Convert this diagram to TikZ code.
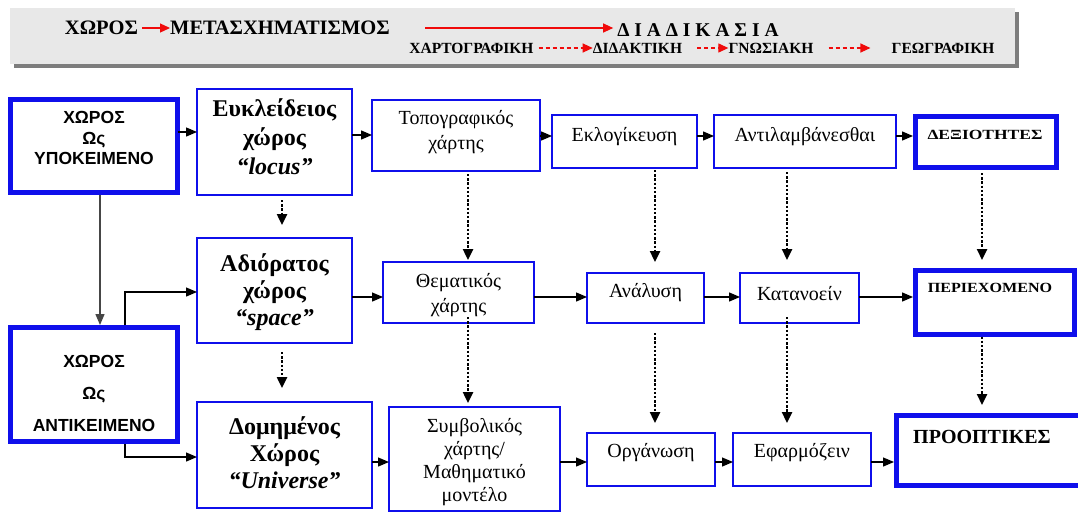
\documentclass[tikz,border=0pt]{standalone}
\usepackage{fontspec}
\setmainfont{Liberation Serif}
\setsansfont{Liberation Sans}
\usetikzlibrary{arrows.meta}
\definecolor{bxblue}{RGB}{15,15,235}
\definecolor{hdrgray}{RGB}{232,232,232}
\definecolor{shgray}{RGB}{125,125,125}
\definecolor{arrred}{RGB}{240,10,10}
\definecolor{lnkgray}{RGB}{70,70,70}
\newcommand\mybox[6]{\node[#2, minimum width={#5-#3}, minimum height={#6-#4}] (#1) at ({(#3+#5)/2},{(#4+#6)/2}) {};}
\newcommand\fsz[2]{\fontsize{#1}{#2}\selectfont}
\begin{document}
\begin{tikzpicture}[x=1pt,y=-1pt,
  thinbox/.style={draw=bxblue, line width=1.4pt, fill=white, inner sep=0pt, outer sep=0pt},
  thickbox/.style={draw=bxblue, line width=5pt, fill=white, inner sep=0pt, outer sep=0pt},
  txt/.style={inner sep=0pt, align=center},
  arr/.style={-{Triangle[length=11pt,width=9pt]}, line width=1.3pt, black},
  dotarr/.style={-{Triangle[length=11pt,width=10pt]}, line width=2.4pt, dash pattern=on 2.4pt off 1.8pt, black},
  redarr/.style={-{Triangle[length=10pt,width=9pt]}, line width=1.2pt, arrred},
  reddash/.style={-{Triangle[length=10pt,width=9pt]}, line width=1.2pt, arrred, dash pattern=on 4pt off 3pt},
  hdr1/.style={inner sep=0pt, font=\bfseries\fsz{20.5}{22}},
  hdr2/.style={inner sep=0pt, font=\bfseries\fsz{15.5}{17}}
]
\useasboundingbox (0,0) rectangle (1078,512);
\fill[white] (0,0) rectangle (1078,512);
% header panel
\fill[shgray] (14,12) rectangle (1019,68);
\node[fill=hdrgray, inner sep=0pt, outer sep=0pt, minimum width=1005, minimum height=56] (hdr) at (512.5,36) {};
\node[hdr1] (hx) at (101.5,28) {ΧΩΡΟΣ};
\node[hdr1] (hm) at (280,28) {ΜΕΤΑΣΧΗΜΑΤΙΣΜΟΣ};
\node[hdr1, font=\bfseries\fsz{19.5}{22}] (hd) at (698,30) {Δ Ι Α Δ Ι Κ Α Σ Ι Α};
\coordinate (hstart) at (425,28);
\node[hdr2] (c1) at (471.5,48) {ΧΑΡΤΟΓΡΑΦΙΚΗ};
\node[hdr2] (c2) at (637.5,48) {ΔΙΔΑΚΤΙΚΗ};
\node[hdr2] (c3) at (771,48) {ΓΝΩΣΙΑΚΗ};
\node[hdr2] (c4) at (943,48) {ΓΕΩΓΡΑΦΙΚΗ};
\draw[redarr] ([xshift=4pt]hx.east) -- (hm.west);
\draw[redarr] (hstart) -- ([xshift=-4pt]hd.west |- hstart);
\draw[reddash] ([xshift=5pt]c1.east) -- (c2.west);
\draw[reddash] ([xshift=15pt]c2.east) -- (c3.west);
\draw[reddash, shorten >=21pt] ([xshift=15pt]c3.east) -- (c4.west);

% boxes
\mybox{a}{thickbox}{10.5}{99.5}{177.5}{192.5}
\mybox{b}{thinbox}{197}{89}{352}{195}
\mybox{c}{thinbox}{372}{100}{540}{171}
\mybox{d}{thinbox}{552}{115}{697}{168}
\mybox{e}{thinbox}{714}{115}{896}{168}
\mybox{f}{thickbox}{915.5}{116.5}{1056.5}{167.5}
\mybox{g}{thinbox}{197}{238}{352}{343}
\mybox{h}{thinbox}{383}{262}{534}{323}
\mybox{i}{thinbox}{587}{273}{704}{323}
\mybox{j}{thinbox}{740}{273}{859}{323}
\mybox{k}{thickbox}{915.5}{270.5}{1074.5}{334.5}
\mybox{l}{thickbox}{10.5}{327.5}{177.5}{441.5}
\mybox{m}{thinbox}{197}{402}{372}{508}
\mybox{n}{thinbox}{389}{407}{560}{511}
\mybox{o}{thinbox}{587}{433}{715}{486}
\mybox{p}{thinbox}{733}{433}{871}{486}
\mybox{q}{thickbox}{896.5}{415.5}{1082}{485.5}

% texts
\node[txt, font=\sffamily\bfseries\fsz{17.5}{20.5}] (at) at (94,138) {ΧΩΡΟΣ\\Ως\\ΥΠΟΚΕΙΜΕΝΟ};
\node[txt, font=\sffamily\bfseries\fsz{17.5}{32}] (lt) at (94,393) {ΧΩΡΟΣ\\Ως\\ΑΝΤΙΚΕΙΜΕΝΟ};
\node[txt, font=\bfseries\fsz{24}{29}] (bt) at (274.5,137) {Ευκλείδειος\\χώρος\\\textit{“locus”}};
\node[txt, font=\bfseries\fsz{24}{27}] (gt) at (274.5,292) {Αδιόρατος\\χώρος\\\textit{“space”}};
\node[txt, font=\bfseries\fsz{24}{27}] (mt) at (284.5,453) {Δομημένος\\Χώρος\\\textit{“Universe”}};
\node[txt, font=\fsz{20}{25}] (ct) at (456,132.5) {Τοπογραφικός\\χάρτης};
\node[txt, font=\fsz{20}{25}] (ht) at (458.5,295.5) {Θεματικός\\χάρτης};
\node[txt, font=\fsz{20}{23}] (nt) at (474.5,462) {Συμβολικός\\χάρτης/\\Μαθηματικό\\μοντέλο};
\node[txt, font=\fsz{20}{22}] (dt) at (624.5,137) {Εκλογίκευση};
\node[txt, font=\fsz{20}{22}] (et) at (805,137) {Αντιλαμβάνεσθαι};
\node[txt, font=\fsz{20}{22}] (it) at (645.5,293) {Ανάλυση};
\node[txt, font=\fsz{20}{22}] (jt) at (799.5,294) {Κατανοείν};
\node[txt, font=\fsz{20}{22}] (ot) at (651,453) {Οργάνωση};
\node[txt, font=\fsz{20}{22}] (pt) at (802,453) {Εφαρμόζειν};
\node[txt, font=\bfseries\fsz{14}{16}] (ft) at (985,135) {\scalebox{1.25}[1]{ΔΕΞΙΟΤΗΤΕΣ}};
\node[txt, font=\bfseries\fsz{14}{16}] (kt) at (990,288) {\scalebox{1.15}[1]{ΠΕΡΙΕΧΟΜΕΝΟ}};
\node[txt, font=\bfseries\fsz{20}{22}] (qt) at (982,437) {ΠΡΟΟΠΤΙΚΕΣ};

% horizontal arrows
\draw[arr] (a.east |- 0,132) -- (b.west |- 0,132);
\draw[arr] (b.east |- 0,135) -- (c.west |- 0,135);
\draw[arr] (c.east |- 0,136) -- (d.west |- 0,136);
\draw[arr] (d.east |- 0,136) -- (e.west |- 0,136);
\draw[arr, shorten >=2.5pt] (e.east |- 0,136) -- (f.west |- 0,136);
\draw[arr] (g.east |- 0,297) -- (h.west |- 0,297);
\draw[arr] (h.east |- 0,297) -- (i.west |- 0,297);
\draw[arr] (i.east |- 0,297) -- (j.west |- 0,297);
\draw[arr, shorten >=2.5pt] (j.east |- 0,297) -- (k.west |- 0,297);
\draw[arr] (m.east |- 0,462) -- (n.west |- 0,462);
\draw[arr] (n.east |- 0,462) -- (o.west |- 0,462);
\draw[arr] (o.east |- 0,462) -- (p.west |- 0,462);
\draw[arr, shorten >=2.5pt] (p.east |- 0,462) -- (q.west |- 0,462);

% left links
\draw[arr, lnkgray, shorten <=2.5pt, shorten >=2.5pt] (a.south -| 100,0) -- (l.north -| 100,0);
\draw[arr, shorten <=2.5pt] (l.north -| 125,0) |- (g.west |- 0,292);
\draw[arr, shorten <=2.5pt] (l.south -| 125,0) |- (m.west |- 0,457);

% dotted arrows
\draw[dotarr, shorten <=5pt, shorten >=13pt] (b.south -| 282,0) -- (g.north -| 282,0);
\draw[dotarr, shorten <=9pt, shorten >=14pt] (g.south -| 282,0) -- (m.north -| 282,0);
\draw[dotarr, shorten <=3pt, shorten >=2pt] (c.south -| 468,0) -- (h.north -| 468,0);
\draw[dotarr, shorten <=2pt, shorten >=11pt] (d.south -| 655,0) -- (i.north -| 655,0);
\draw[dotarr, shorten <=4pt, shorten >=13pt] (e.south -| 787,0) -- (j.north -| 787,0);
\draw[dotarr, shorten <=5.5pt, shorten >=10.5pt] (f.south -| 982,0) -- (k.north -| 982,0);
\draw[dotarr, shorten <=-6pt, shorten >=4pt] (h.south -| 468,0) -- (n.north -| 468,0);
\draw[dotarr, shorten <=10pt, shorten >=10pt] (i.south -| 655,0) -- (o.north -| 655,0);
\draw[dotarr, shorten <=-6pt, shorten >=10pt] (j.south -| 787,0) -- (p.north -| 787,0);
\draw[dotarr, shorten <=2pt, shorten >=10.5pt] (k.south -| 982,0) -- (q.north -| 982,0);
\end{tikzpicture}
\end{document}
